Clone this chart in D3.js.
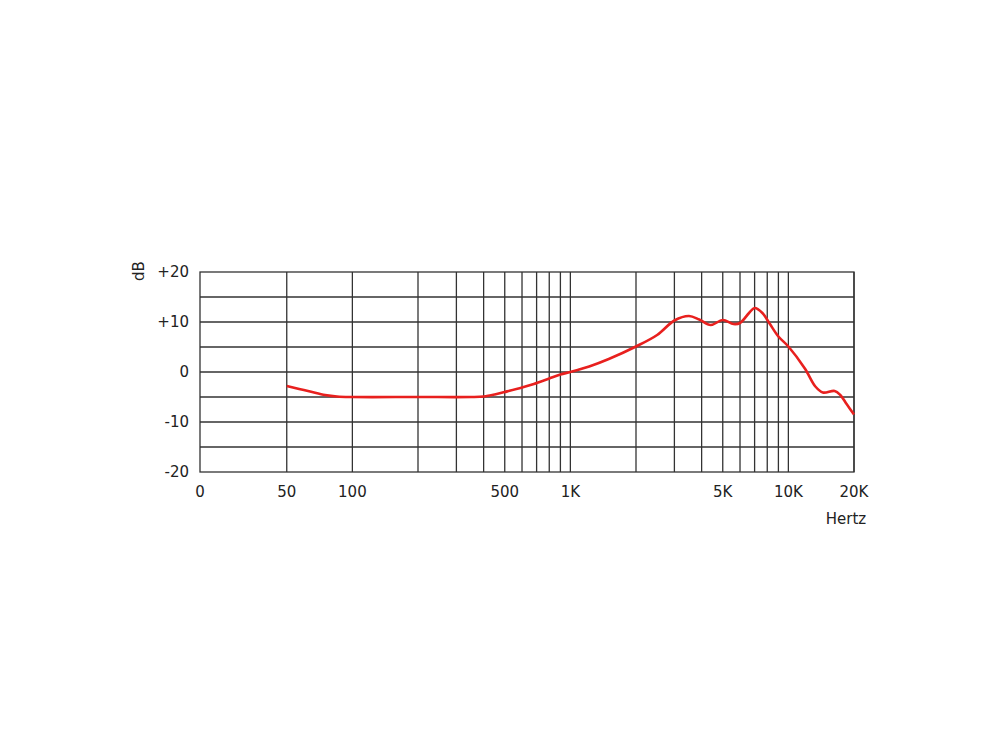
<!DOCTYPE html>
<html>
<head>
<meta charset="utf-8">
<script src="https://cdn.jsdelivr.net/npm/d3@7"></script>
<style>
  body { margin: 0; background: #fff; }
  text { font-family: "DejaVu Sans", sans-serif; fill: #222; }
</style>
</head>
<body>
<div id="chart"></div>
<script>
// response curve (Hz, dB)
var freqs = [50, 57, 64, 75, 85, 100, 200, 350, 400, 450, 500, 600, 680, 800, 900, 1000, 1220, 1500, 2000, 2500, 3000, 3500, 3900, 4400, 5000, 5600, 6000, 6600, 7000, 7600, 8200, 9000, 10000, 11900, 13300, 14400, 16300, 17300, 18500, 20000]
var levels = [-2.8, -3.4, -3.9, -4.6, -4.9, -5, -5, -5, -4.9, -4.5, -4, -3.1, -2.4, -1.3, -0.5, 0, 1.1, 2.6, 5.1, 7.4, 10.3, 11.2, 10.5, 9.4, 10.4, 9.6, 9.8, 11.8, 12.8, 11.8, 9.7, 7.1, 5.1, 0.7, -2.9, -4.1, -3.8, -4.6, -6.4, -8.5]

// grid and tick labels
var vLines = [50, 100, 200, 300, 400, 500, 600, 700, 800, 900, 1000, 2000, 3000, 4000, 5000, 6000, 7000, 8000, 9000, 10000, 20000]
var hLines = [-15, -10, -5, 0, 5, 10, 15]
var xTicks = [20, 50, 100, 500, 1000, 5000, 10000, 20000]
var xTickLabels = ["0", "50", "100", "500", "1K", "5K", "10K", "20K"]
var yTicks = [20, 10, 0, -10, -20]
var yTickLabels = ["+20", "+10", "0", "-10", "-20"]

var width = 1000,
    height = 750

var svg = d3.select("#chart")
  .append("svg")
    .attr("width", width)
    .attr("height", height)

var x = d3.scaleLog()
  .domain([20, 20000])
  .range([200, 854])

var y = d3.scaleLinear()
  .domain([-20, 20])
  .range([472, 272])

var grid = svg.append("g")
  .attr("stroke", "#333")
  .attr("stroke-width", 1.3)

grid.selectAll(".v")
  .data(vLines)
  .enter()
  .append("line")
    .attr("x1", function(d) { return x(d) })
    .attr("x2", function(d) { return x(d) })
    .attr("y1", y(20))
    .attr("y2", y(-20))

grid.selectAll(".h")
  .data(hLines)
  .enter()
  .append("line")
    .attr("x1", x(20))
    .attr("x2", x(20000))
    .attr("y1", function(d) { return y(d) })
    .attr("y2", function(d) { return y(d) })

// frame
grid.append("rect")
  .attr("x", x(20))
  .attr("y", y(20))
  .attr("width", x(20000) - x(20))
  .attr("height", y(-20) - y(20))
  .attr("fill", "none")

// curve
var pts = freqs.map(function(f, i) { return [f, levels[i]] })
var line = d3.line()
  .x(function(d) { return x(d[0]) })
  .y(function(d) { return y(d[1]) })
  .curve(d3.curveCatmullRom)

svg.append("path")
  .datum(pts)
  .attr("d", line)
  .attr("fill", "none")
  .attr("stroke", "#e8201e")
  .attr("stroke-width", 2.6)

// labels
svg.selectAll(".xl")
  .data(xTicks)
  .enter()
  .append("text")
    .attr("x", function(d) { return x(d) })
    .attr("y", 497)
    .attr("text-anchor", "middle")
    .style("font-size", "15px")
    .text(function(d, i) { return xTickLabels[i] })

svg.selectAll(".yl")
  .data(yTicks)
  .enter()
  .append("text")
    .attr("x", 189)
    .attr("y", function(d) { return y(d) + 5 })
    .attr("text-anchor", "end")
    .style("font-size", "15px")
    .text(function(d, i) { return yTickLabels[i] })

svg.append("text")
  .attr("transform", "translate(144,271) rotate(-90)")
  .attr("text-anchor", "middle")
  .style("font-size", "15px")
  .text("dB")

svg.append("text")
  .attr("x", 846)
  .attr("y", 524)
  .attr("text-anchor", "middle")
  .style("font-size", "15px")
  .text("Hertz")
</script>
</body>
</html>
